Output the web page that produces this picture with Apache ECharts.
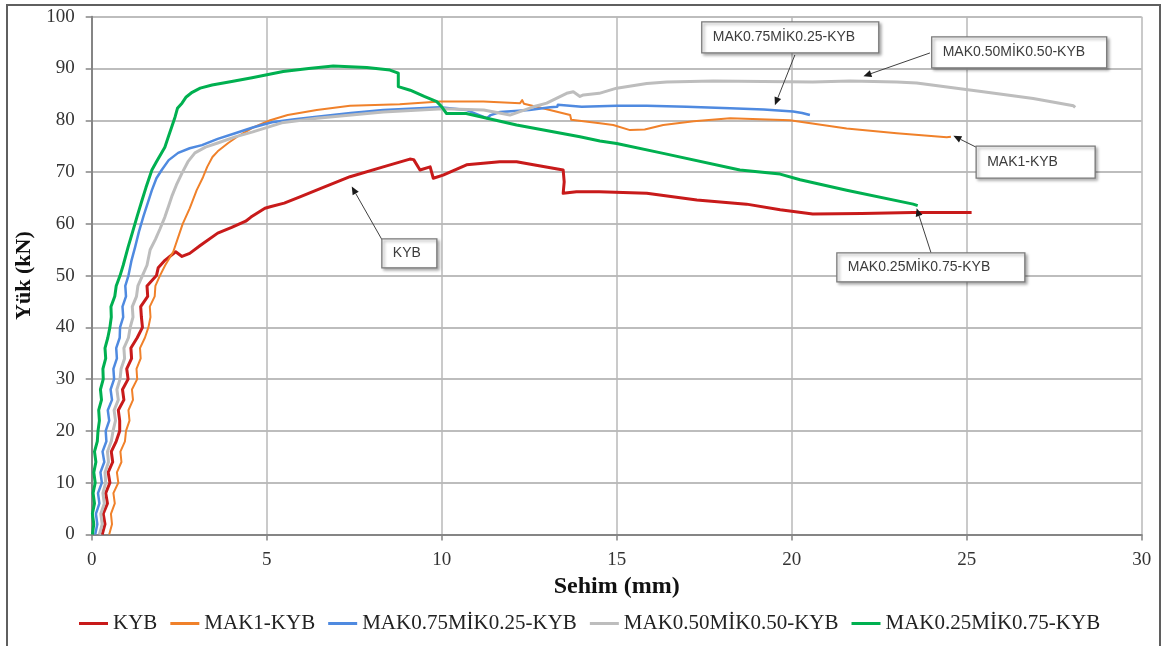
<!DOCTYPE html>
<html><head><meta charset="utf-8">
<script src="https://cdn.jsdelivr.net/npm/echarts@6/dist/echarts.min.js"></script>
<style>html,body{margin:0;padding:0;background:#fff}#c{width:1174px;height:646px}</style>
</head><body><div id="c"></div>
<script>
// ---- data (x: Sehim mm, y: Yük kN) ----
const seriesNames = ['KYB', 'MAK1-KYB', 'MAK0.75MİK0.25-KYB', 'MAK0.50MİK0.50-KYB', 'MAK0.25MİK0.75-KYB'];
const seriesColors = ['#c81a1a', '#f0812a', '#4f8ae0', '#bdbdbd', '#00b050'];

const kyb = [[0.30,0],[0.38,2],[0.33,4],[0.45,6],[0.40,8],[0.52,10],[0.47,12],[0.60,14],[0.56,16],[0.70,18],[0.80,20],[0.80,22],[0.76,24],[0.92,26],[0.88,28],[1.04,30],[1.00,32],[1.14,34],[1.12,36],[1.30,38],[1.45,40],[1.42,42],[1.40,44],[1.60,46],[1.58,48],[1.85,50],[1.90,51.5],[2.10,53],[2.40,54.6],[2.58,53.7],[2.80,54.3],[3.10,55.8],[3.60,58.2],[4.00,59.3],[4.40,60.5],[4.55,61.3],[4.95,63.0],[5.10,63.3],[5.50,64.0],[5.95,65.2],[6.60,67.0],[7.38,69.1],[8.33,71.0],[9.09,72.5],[9.20,72.4],[9.38,70.4],[9.67,71.0],[9.76,68.8],[10.04,69.4],[10.71,71.4],[11.66,72.0],[12.14,72.0],[12.62,71.4],[13.47,70.4],[13.50,68.1],[13.47,65.9],[13.85,66.2],[14.50,66.2],[15.86,65.9],[17.29,64.6],[18.71,63.8],[19.67,62.7],[20.60,61.9],[22.00,62.0],[23.47,62.2],[25.14,62.2]];

const mak1 = [[0.50,0],[0.58,2],[0.55,4],[0.66,6],[0.62,8],[0.76,10],[0.72,12],[0.85,14],[0.82,16],[0.95,18],[0.98,20],[1.08,22],[1.05,24],[1.18,26],[1.15,28],[1.30,30],[1.28,32],[1.40,34],[1.38,36],[1.52,38],[1.62,40],[1.68,42],[1.66,44],[1.80,46],[1.82,48],[1.95,50],[2.10,52],[2.33,54.6],[2.45,57],[2.60,60],[2.80,63],[3.00,66.5],[3.18,69],[3.30,71],[3.45,72.9],[3.60,74],[3.90,75.6],[4.20,77],[4.58,78.5],[5.10,80.0],[5.60,81.0],[6.43,82.0],[7.38,82.8],[8.80,83.1],[9.95,83.6],[11.19,83.6],[12.24,83.3],[12.30,83.9],[12.35,83.2],[13.09,82.0],[13.67,81.0],[13.70,80.1],[14.52,79.4],[14.90,79.1],[15.38,78.1],[15.80,78.2],[16.33,79.1],[17.20,79.8],[18.24,80.4],[19.95,80.0],[21.57,78.4],[23.00,77.5],[24.43,76.7],[24.55,76.8]];

const mak075 = [[0.10,0],[0.16,2],[0.12,4],[0.22,6],[0.18,8],[0.29,10],[0.25,12],[0.36,14],[0.31,16],[0.42,18],[0.40,20],[0.50,22],[0.46,24],[0.58,26],[0.54,28],[0.64,30],[0.62,32],[0.72,34],[0.70,36],[0.80,38],[0.81,40],[0.90,42],[0.88,44],[0.98,46],[0.96,48],[1.05,50],[1.14,53],[1.24,55.5],[1.35,58.5],[1.48,61.5],[1.60,64],[1.72,66.5],[1.85,68.8],[2.00,70.4],[2.20,72.3],[2.47,73.7],[2.80,74.6],[3.15,75.2],[3.60,76.4],[4.10,77.5],[4.60,78.6],[5.15,79.6],[5.80,80.2],[6.43,80.7],[7.40,81.4],[8.33,82.0],[9.95,82.5],[10.70,82.0],[11.00,81.2],[11.29,80.4],[11.40,81.0],[11.67,81.6],[12.50,82.0],[13.10,82.5],[13.30,82.6],[13.32,83.0],[14.00,82.6],[15.00,82.8],[15.86,82.8],[17.00,82.6],[18.24,82.3],[19.20,82.1],[20.04,81.7],[20.30,81.4],[20.52,81.0]];

const mak050 = [[0.22,0],[0.30,2],[0.26,4],[0.36,6],[0.32,8],[0.40,10],[0.38,12],[0.48,14],[0.45,16],[0.56,18],[0.61,20],[0.68,22],[0.64,24],[0.76,26],[0.72,28],[0.81,30],[0.84,32],[0.94,34],[0.92,36],[1.05,38],[1.10,40],[1.18,42],[1.16,44],[1.28,46],[1.32,48],[1.45,50],[1.58,52],[1.67,55],[1.82,57],[1.95,59],[2.09,61.3],[2.20,63.5],[2.30,65.5],[2.42,67.5],[2.58,69.8],[2.75,72],[2.95,73.7],[3.25,74.8],[3.60,75.6],[4.10,76.8],[4.58,77.7],[5.43,79.5],[6.43,80.4],[8.33,81.6],[10.04,82.2],[11.20,82.0],[11.95,81.0],[12.62,82.6],[13.00,83.3],[13.57,85.2],[13.76,85.5],[13.95,84.6],[14.05,84.9],[14.50,85.2],[15.00,86.2],[15.86,87.1],[16.43,87.4],[17.76,87.6],[20.60,87.4],[21.67,87.6],[23.00,87.4],[23.57,87.2],[25.47,85.5],[26.90,84.2],[28.05,82.8],[28.10,82.5]];

const mak025 = [[0.02,0],[0.06,2],[0.02,4],[0.08,6],[0.04,8],[0.10,10],[0.06,12],[0.12,14],[0.08,16],[0.16,18],[0.18,20],[0.22,22],[0.20,24],[0.28,26],[0.25,28],[0.33,30],[0.32,32],[0.40,34],[0.38,36],[0.46,38],[0.52,40],[0.56,42],[0.55,44],[0.66,46],[0.70,48],[0.81,50],[0.90,52],[1.04,55.5],[1.15,58],[1.30,61.5],[1.44,64.6],[1.55,67],[1.72,70.4],[1.85,72],[2.09,74.8],[2.20,77],[2.30,79],[2.38,80.6],[2.45,82.3],[2.58,83.3],[2.70,84.5],[2.87,85.4],[3.10,86.2],[3.44,86.8],[4.00,87.5],[4.58,88.2],[5.47,89.4],[6.20,90.0],[6.90,90.5],[7.86,90.2],[8.52,89.7],[8.76,89.1],[8.76,86.5],[9.10,85.8],[9.50,84.6],[9.86,83.6],[10.00,82.6],[10.14,81.3],[10.70,81.3],[12.14,79.1],[13.95,76.8],[14.52,76.0],[15.00,75.5],[16.33,73.6],[18.52,70.4],[19.67,69.6],[20.24,68.5],[21.57,66.5],[23.47,63.8],[23.60,63.5]];

const seriesData = [kyb, mak1, mak075, mak050, mak025];
const lineWidths = [3, 2, 2.5, 3, 3];

// axis ticks
const xMin = 0, xMax = 30, xStep = 5;
const yMin = 0, yMax = 100, yStep = 10;
const xTitle = 'Sehim (mm)';
const yTitle = 'Yük (kN)';

// annotation callouts (data coordinates)
const annotations = [
  {text: 'KYB',                 box: [8.29, 57.1],  w: 55,  h: 29, tail: [8.38, 55.9],  tip: [7.43, 67.2]},
  {text: 'MAK0.75MİK0.25-KYB',  box: [17.43, 99.0], w: 177, h: 31, tail: [20.09, 92.6], tip: [19.52, 82.9]},
  {text: 'MAK0.50MİK0.50-KYB',  box: [24.0, 96.1],  w: 175, h: 31, tail: [23.95, 93.0], tip: [22.05, 88.5]},
  {text: 'MAK1-KYB',            box: [25.27, 75.0], w: 119, h: 32, tail: [25.27, 74.8], tip: [24.62, 77.0]},
  {text: 'MAK0.25MİK0.75-KYB',  box: [21.29, 54.4], w: 188, h: 29, tail: [24.0, 54.0],  tip: [23.57, 63.0]}
];

const serif = '"Liberation Serif", "Times New Roman", serif';
const chart = echarts.init(document.getElementById('c'), null, {renderer: 'canvas'});

const option = {
  animation: false,
  backgroundColor: '#fff',
  grid: {left: 91.7, right: 32.3, top: 16.7, bottom: 111.5, containLabel: false},
  legend: {
    left: 74, top: 608, icon: 'rect', itemWidth: 29, itemHeight: 3, itemGap: 13,
    data: seriesNames,
    textStyle: {fontFamily: serif, fontSize: 21, color: '#222'}
  },
  xAxis: {
    type: 'value', min: xMin, max: xMax, interval: xStep,
    name: xTitle, nameLocation: 'middle', nameGap: 33,
    nameTextStyle: {fontFamily: serif, fontSize: 24, fontWeight: 'bold', color: '#111'},
    axisLine: {show: true, lineStyle: {color: '#858585', width: 2}},
    axisTick: {show: true, length: 6, lineStyle: {color: '#858585', width: 1.5}},
    axisLabel: {fontFamily: serif, fontSize: 19, color: '#333', margin: 16},
    splitLine: {show: true, lineStyle: {color: '#b8b8b8', width: 1.5}}
  },
  yAxis: {
    type: 'value', min: yMin, max: yMax, interval: yStep,
    name: yTitle, nameLocation: 'middle', nameGap: 53, nameRotate: 90,
    nameTextStyle: {fontFamily: serif, fontSize: 22, fontWeight: 'bold', color: '#111'},
    axisLine: {show: true, lineStyle: {color: '#858585', width: 2}},
    axisTick: {show: true, length: 6, lineStyle: {color: '#858585', width: 1.5}},
    axisLabel: {fontFamily: serif, fontSize: 19, color: '#333', margin: 17},
    splitLine: {show: true, lineStyle: {color: '#bdbdbd', width: 2}}
  },
  series: seriesNames.map((n, i) => ({
    name: n, type: 'line', data: seriesData[i],
    showSymbol: false, symbol: 'none', smooth: false,
    lineStyle: {color: seriesColors[i], width: lineWidths[i], join: 'round'},
    itemStyle: {color: seriesColors[i]},
    z: 2 + i
  }))
};
chart.setOption(option);

function drawAnnotations() {
  const els = [];
  els.push({type: 'rect', silent: true, z: 0,
    shape: {x: 7, y: 5, width: 1153, height: 660},
    style: {fill: 'none', stroke: '#5f5f5f', lineWidth: 2}});
  annotations.forEach(a => {
    const b = chart.convertToPixel({gridIndex: 0}, a.box);
    const t = chart.convertToPixel({gridIndex: 0}, a.tip);
    const s = chart.convertToPixel({gridIndex: 0}, a.tail);
    const dx = t[0] - s[0], dy = t[1] - s[1];
    const L = Math.hypot(dx, dy), ux = dx / L, uy = dy / L;
    const hl = 8, hw = 3.5;
    const bx = t[0] - ux * hl, by = t[1] - uy * hl;
    els.push({type: 'line', z: 20, shape: {x1: s[0], y1: s[1], x2: bx, y2: by},
      style: {stroke: '#404040', lineWidth: 1}});
    els.push({type: 'polygon', z: 20,
      shape: {points: [[t[0], t[1]], [bx - uy * hw, by + ux * hw], [bx + uy * hw, by - ux * hw]]},
      style: {fill: '#1a1a1a'}});
    els.push({type: 'rect', z: 21, shape: {x: b[0], y: b[1], width: a.w, height: a.h},
      style: {fill: '#fff', stroke: '#7a7a7a', lineWidth: 1.3,
        shadowBlur: 3, shadowColor: 'rgba(0,0,0,0.35)', shadowOffsetX: 2, shadowOffsetY: 2}});
    els.push({type: 'text', z: 22, x: b[0] + 11, y: b[1] + a.h / 2,
      style: {text: a.text, fill: '#3c3c3c', font: '14px "Liberation Sans", Arial, sans-serif',
        verticalAlign: 'middle', align: 'left'}});
  });
  chart.setOption({graphic: {elements: els}});
}
drawAnnotations();
</script>
</body></html>
